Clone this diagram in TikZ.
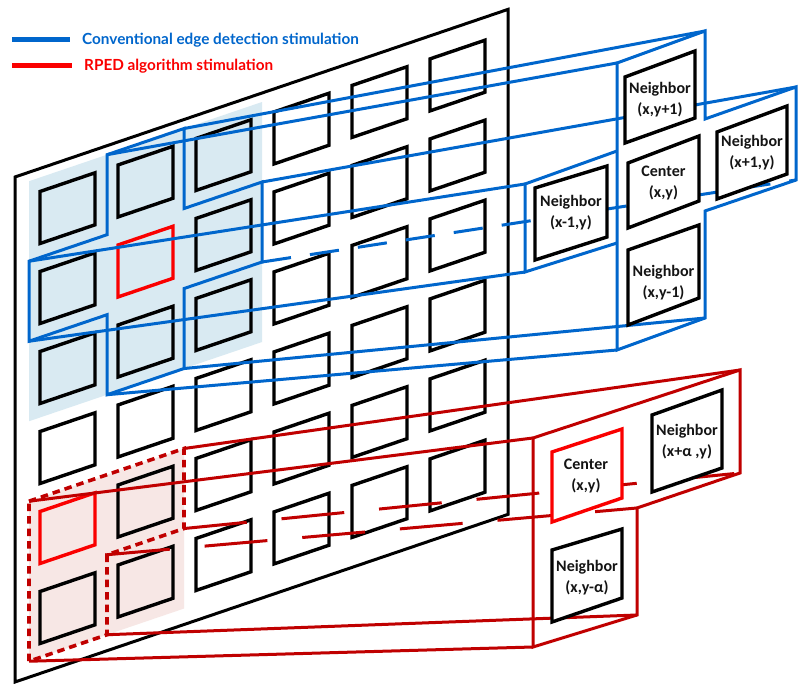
\documentclass[tikz,border=0pt]{standalone}
\usepackage{fontspec}
\setmainfont{Carlito}
\newfontfamily\legfont{Lato}
\usetikzlibrary{calc}
\definecolor{bl}{RGB}{0,102,204}
\definecolor{dred}{RGB}{192,0,0}
\definecolor{bred}{RGB}{250,0,0}
\definecolor{lblue}{RGB}{217,234,242}
\definecolor{lpink}{RGB}{247,231,229}
\begin{document}
\begin{tikzpicture}[x=1pt,y=-1pt,line join=miter,
  declare function={py(\p,\q)=682-0.34*(\p-15)-\q;},
  panelln/.style={line width=3pt,black},
  cellbox/.style={line width=3.4pt},
  blueln/.style={line width=3pt,bl},
  bluedash/.style={line width=3pt,bl,dash pattern=on 29.3pt off 19.2pt},
  redln/.style={line width=3pt,dred},
  reddash/.style={line width=3pt,dred,dash pattern=on 63pt off 35pt},
  redoutline/.style={line width=3.6pt,dred,dash pattern=on 7.5pt off 5pt},
  bigbox/.style={line width=3.4pt,black,fill=white},
  redbox/.style={line width=3.4pt,bred,fill=white},
  lab/.style={font=\fontsize{16}{21}\selectfont\bfseries,align=center,text=black!92,inner sep=0pt},
  legtext/.style={anchor=west,inner sep=0pt,font=\legfont\bfseries\fontsize{15.3}{17}\selectfont}]
\useasboundingbox (0,0) rectangle (798,684);
\fill[white] (0,0) rectangle (798,684);

% ---------- panel ----------
\coordinate (pBL) at (15,{py(15,0)});
\coordinate (pBR) at (508,{py(508,0)});
\coordinate (pTR) at (508,{py(508,505)});
\coordinate (pTL) at (15,{py(15,505)});
\draw[panelln,fill=white] (pBL) -- (pBR) -- (pTR) -- (pTL) -- cycle;

% shadings
\fill[lblue] (29,{py(29,256)}) -- (262,{py(262,256)}) -- (262,{py(262,496)}) -- (29,{py(29,496)}) -- cycle;
\fill[lpink] (29,{py(29,16)}) -- (184,{py(184,16)}) -- (184,{py(184,176)}) -- (29,{py(29,176)}) -- cycle;

% cells
\foreach \cx in {40,118,196,274,352,430}{
  \foreach \cv in {30,110,190,270,350,430}{
    \pgfmathtruncatemacro\isred{((\cx==118)&&(\cv==350))||((\cx==40)&&(\cv==110))}
    \ifnum\isred=1 \def\cc{bred}\else \def\cc{black}\fi
    \draw[cellbox,draw=\cc] (\cx,{py(\cx,\cv)}) -- ({\cx+55},{py(\cx+55,\cv)}) -- ({\cx+55},{py(\cx+55,\cv+52)}) -- (\cx,{py(\cx,\cv+52)}) -- cycle;
  }
}

% ---------- blue cross in panel ----------
\coordinate (A) at (107,{py(107,496)});
\coordinate (B) at (184,{py(184,496)});
\coordinate (C) at (184,{py(184,416)});
\coordinate (D) at (262,{py(262,416)});
\coordinate (E) at (262,{py(262,336)});
\coordinate (F) at (184,{py(184,336)});
\coordinate (G) at (184,{py(184,256)});
\coordinate (H) at (107,{py(107,256)});
\coordinate (I) at (107,{py(107,336)});
\coordinate (J) at (29,{py(29,336)});
\coordinate (K) at (29,{py(29,416)});
\coordinate (L) at (107,{py(107,416)});
\draw[blueln] (A) -- (B) -- (C) -- (D) -- (E) -- (F) -- (G) -- (H) -- (I) -- (J) -- (K) -- (L) -- cycle;

% ---------- red L in panel ----------
\coordinate (ra) at (29,{py(29,176)});
\coordinate (rb) at (184,{py(184,176)});
\coordinate (rc) at (184,{py(184,96)});
\coordinate (rd) at (107,{py(107,96)});
\coordinate (re) at (107,{py(107,16)});
\coordinate (rf) at (29,{py(29,16)});
\draw[redoutline] (ra) -- (rb) -- (rc) -- (rd) -- (re) -- (rf) -- cycle;

% ---------- blue expanded frame ----------
\coordinate (eA) at (617,63);
\coordinate (eB) at (705,31);
\coordinate (eC) at (705,119);
\coordinate (eD) at (796,87);
\coordinate (eE) at (796,180);
\coordinate (eF) at (705,211);
\coordinate (eG) at (705,318);
\coordinate (eH) at (617,350);
\coordinate (eI) at (617,243);
\coordinate (eJ) at (525,272);
\coordinate (eK) at (525,184);
\coordinate (eL) at (617,151);
\draw[blueln] (eA) -- (eB) -- (eC) -- (eD) -- (eE) -- (eF) -- (eG) -- (eH) -- cycle;
\draw[blueln] (eL) -- (eK) -- (eJ) -- (eI);

% blue projection lines
\draw[blueln] (B) -- (eB);
\draw[blueln] (A) -- (eA);
\draw[blueln] (D) -- (eD);
\draw[bluedash] (E) -- (eE);
\draw[blueln] (G) -- (eG);
\draw[blueln] (H) -- (eH);
\draw[blueln] (J) -- (eJ);
\draw[blueln] (K) -- (eK);

% ---------- red expanded frame ----------
\coordinate (xA) at (533,438);
\coordinate (xB) at (740,370);
\coordinate (xC) at (740,473);
\coordinate (xD) at (637,508);
\coordinate (xE) at (637,615);
\coordinate (xF) at (533,647);
\draw[redln] (xA) -- (xB) -- (xC) -- (xD) -- (xE) -- (xF) -- cycle;

% red projection lines
\draw[redln] (ra) -- (xA);
\draw[redln] (rb) -- (xB);
\draw[reddash] (rc) -- (xC);
\draw[reddash] (rd) -- (xD);
\draw[redln] (re) -- (xE);
\draw[redln] (rf) -- (xF);

% ---------- expanded squares (blue group) ----------
\draw[bigbox] (625,77) -- (695,51) -- (695,118) -- (625,143) -- cycle;
\node[lab] (s1) at (660,100) {Neighbor\\(x,y+1)};
\draw[bigbox] (628,163) -- (699,136) -- (699,201) -- (628,228) -- cycle;
\node[lab] (s2) at (663.5,183) {Center\\(x,y)};
\draw[bigbox] (717,132) -- (787,106) -- (787,174) -- (717,199) -- cycle;
\node[lab] (s3) at (752,152.5) {Neighbor\\(x+1,y)};
\draw[bigbox] (535,188) -- (607,166) -- (607,237) -- (535,260) -- cycle;
\node[lab] (s4) at (571,213) {Neighbor\\(x-1,y)};
\draw[bigbox] (628,250) -- (699,225) -- (699,298) -- (628,325) -- cycle;
\node[lab] (s5) at (663.5,283) {Neighbor\\(x,y-1)};

% ---------- expanded squares (red group) ----------
\draw[redbox] (552,452) -- (622,429) -- (622,498) -- (552,522) -- cycle;
\node[lab] (t1) at (586,476.5) {Center\\(x,y)};
\draw[bigbox] (652,415) -- (722,390) -- (722,468) -- (652,492) -- cycle;
\node[lab] (t2) at (687,441.5) {Neighbor\\(x+α ,y)};
\draw[bigbox] (552,550) -- (622,529) -- (622,598) -- (552,622) -- cycle;
\node[lab] (t3) at (587,578) {Neighbor\\(x,y-α)};

% ---------- legend ----------
\coordinate (lb1) at (12,40);
\coordinate (lb2) at (70,40);
\coordinate (lr1) at (12,66);
\coordinate (lr2) at (72,66);
\draw[line width=5pt,bl] (lb1) -- (lb2);
\draw[line width=5pt,bred] (lr1) -- (lr2);
\node[legtext,text=bl] (legb) at (82,40) {Conventional edge detection stimulation};
\node[legtext,text=bred] (legr) at (84,66) {RPED algorithm stimulation};
\end{tikzpicture}
\end{document}
